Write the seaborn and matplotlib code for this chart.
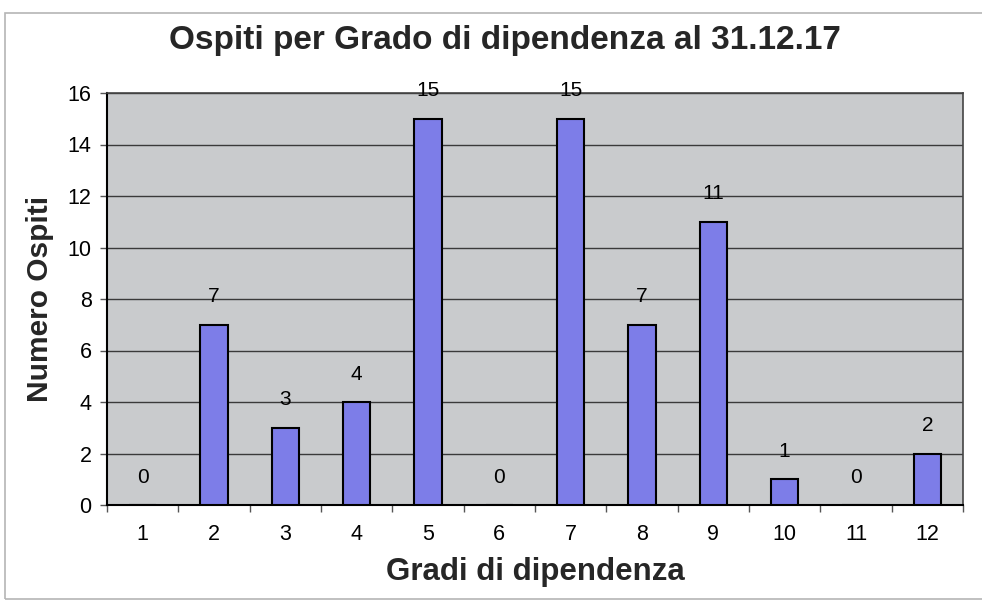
import matplotlib
matplotlib.use("Agg")
import matplotlib.pyplot as plt
import seaborn as sns
import pandas as pd
import numpy as np
from matplotlib.patches import Rectangle

gradi = ["1", "2", "3", "4", "5", "6", "7", "8", "9", "10", "11", "12"]
ospiti = [0, 7, 3, 4, 15, 0, 15, 7, 11, 1, 0, 2]
yticks = [0, 2, 4, 6, 8, 10, 12, 14, 16]

title = "Ospiti per Grado di dipendenza al 31.12.17"
xlabel = "Gradi di dipendenza"
ylabel = "Numero Ospiti"

sns.set_theme(style="white")
plt.rcParams["font.family"] = ["Liberation Sans", "DejaVu Sans"]

df = pd.DataFrame({"grado": gradi, "ospiti": ospiti})

fig = plt.figure(figsize=(9.82, 6.02), dpi=100)
W, H = 982, 602
ax = fig.add_axes([107 / W, 1 - 505 / H, (963 - 107) / W, (505 - 93) / H])

# outer scanned frame
fig.patches.append(Rectangle((5 / W, 3 / H), 1.2, 1 - 16 / H, transform=fig.transFigure,
                             fill=False, edgecolor="#b5b5b5", linewidth=1.2))

ax.set_facecolor("#c9cbcd")
sns.barplot(data=df, x="grado", y="ospiti", order=gradi, color="#7d7de8",
            width=0.38, edgecolor="black", linewidth=1.5, saturation=1, ax=ax, zorder=3)

ax.set_ylim(0, 16)
ax.set_xlim(-0.5, len(gradi) - 0.5)
ax.set_yticks(yticks)
ax.yaxis.grid(True, color="#3a3a3a", linewidth=1.0)
ax.set_axisbelow(True)

for i, v in enumerate(ospiti):
    ax.annotate(str(v), (i, v), xytext=(0, 20), textcoords="offset points",
                ha="center", va="center", fontsize=15, color="black", zorder=5)

ax.set_xticks(np.arange(len(gradi)))
ax.set_xticklabels(gradi)
ax.set_xticks(np.arange(-0.5, len(gradi)), minor=True)
ax.tick_params(axis="x", which="major", length=0, labelsize=15.5, pad=14, colors="black")
ax.tick_params(axis="x", which="minor", length=5, width=1, color="#555555", direction="out", bottom=True)
ax.tick_params(axis="y", which="major", length=5, width=1, labelsize=15.5, color="#555555",
               direction="out", left=True, pad=6, labelcolor="black")

for s in ["left", "bottom"]:
    ax.spines[s].set_color("black")
    ax.spines[s].set_linewidth(1.5)
for s in ["top", "right"]:
    ax.spines[s].set_color("#444444")
    ax.spines[s].set_linewidth(1.2)

ax.set_xlabel(xlabel, fontsize=22.5, fontweight="bold", labelpad=8)
ax.set_ylabel(ylabel, fontsize=21.5, fontweight="bold", labelpad=10)
fig.text(505 / W, 1 - 40 / H, title, ha="center", va="center", fontsize=24, fontweight="bold")

fig.savefig("out.png", dpi=100, facecolor="white")
